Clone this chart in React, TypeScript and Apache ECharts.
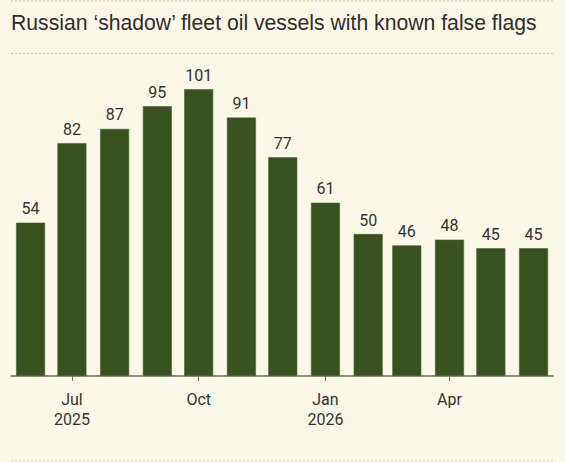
import React, { useEffect, useRef } from "react";
import * as echarts from "echarts";

// Monthly counts, June 2025 – June 2026
const months: [number, number][] = [
  [2025, 5], [2025, 6], [2025, 7], [2025, 8], [2025, 9], [2025, 10], [2025, 11],
  [2026, 0], [2026, 1], [2026, 2], [2026, 3], [2026, 4], [2026, 5],
];
const vessels = [54, 82, 87, 95, 101, 91, 77, 61, 50, 46, 48, 45, 45];

// Quarter tick marks and their labels
const tickMonths: [number, number][] = [[2025, 6], [2025, 9], [2026, 0], [2026, 3]];
const tickLabels = ["Jul\n2025", "Oct", "Jan\n2026", "Apr"];

const TITLE = "Russian \u2018shadow\u2019 fleet oil vessels with known false flags";

const DAY = 86400000;
const ORIGIN = Date.UTC(2025, 5, 1);
// days since 1 June 2025, so the x axis keeps real calendar spacing
const dayOf = ([y, m]: [number, number]) => Math.round((Date.UTC(y, m, 1) - ORIGIN) / DAY);

export default function App() {
  const ref = useRef<HTMLDivElement>(null);

  useEffect(() => {
    document.body.style.margin = "0";
    if (!ref.current) return;
    const chart = echarts.init(ref.current, undefined, { renderer: "svg" });
    const tickValues = tickMonths.map(dayOf);
    const firstDay = dayOf(months[0]);
    const lastDay = dayOf(months[months.length - 1]);
    const dotted = { stroke: "#c8c6bc", lineWidth: 1, lineDash: [2, 2] };

    chart.setOption({
      animation: false,
      backgroundColor: "#fbf8e8",
      textStyle: { fontFamily: "Roboto" },
      grid: { left: 11, right: 12, top: 63.6, bottom: 86 },
      xAxis: {
        type: "value",
        min: firstDay - 14.2,
        max: lastDay + 14.1,
        axisLine: { show: true, lineStyle: { color: "#6b6b66", width: 1.5 } },
        axisTick: {
          show: true,
          length: 5,
          customValues: tickValues,
          lineStyle: { color: "#6b6b66" },
        },
        axisLabel: {
          customValues: tickValues,
          formatter: (v: number) => {
            const i = tickValues.indexOf(v);
            return i >= 0 ? tickLabels[i] : "";
          },
          color: "#333333",
          fontSize: 16,
          lineHeight: 20,
          margin: 13,
          fontFamily: "Roboto",
        },
        splitLine: { show: false },
      },
      yAxis: {
        type: "value",
        min: 0,
        max: 110,
        show: false,
      },
      series: [
        {
          type: "bar",
          barWidth: 29,
          data: months.map((m, i) => [dayOf(m), vessels[i]]),
          itemStyle: { color: "#38511f", borderColor: "#4a6330", borderWidth: 0.6 },
          label: {
            show: true,
            position: "top",
            distance: 6,
            color: "#333333",
            fontSize: 16,
            fontFamily: "Roboto",
          },
        },
      ],
      graphic: [
        { type: "line", shape: { x1: 11, y1: 1, x2: 553, y2: 1 }, style: dotted, silent: true },
        { type: "line", shape: { x1: 11, y1: 53.5, x2: 553, y2: 53.5 }, style: dotted, silent: true },
        { type: "line", shape: { x1: 11, y1: 461, x2: 553, y2: 461 }, style: dotted, silent: true },
        {
          type: "text",
          left: 11,
          top: 12,
          style: {
            text: TITLE,
            fill: "#2e2e2e",
            fontSize: 21.2,
            fontFamily: "Liberation Sans",
          },
        },
      ],
    });
    return () => chart.dispose();
  }, []);

  return <div ref={ref} style={{ width: 565, height: 462 }} />;
}
